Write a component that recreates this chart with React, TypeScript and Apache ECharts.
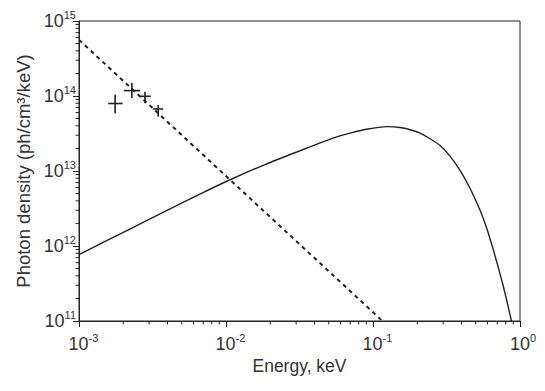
import React, { useEffect, useRef } from "react";
import * as echarts from "echarts";

// Solid curve (model spectrum): energy (keV), photon density
const curveEnergy = [
  0.001, 0.00222, 0.00385, 0.00665, 0.01094, 0.01841, 0.0318, 0.0535, 0.0698, 0.0906, 0.124, 0.1527,
  0.187, 0.209, 0.2443, 0.286, 0.334, 0.391, 0.457, 0.535, 0.5964, 0.655, 0.7083, 0.766, 0.816, 0.868, 0.885,
];
const curveDensity = [
  7.7e11, 1.68e12, 2.9e12, 4.93e12, 7.82e12, 1.22e13, 1.86e13, 2.75e13, 3.2e13, 3.61e13, 3.9e13, 3.8e13,
  3.47e13, 3.19e13, 2.69e13, 2.19e13, 1.58e13, 1.02e13, 5.89e12, 2.99e12, 1.69e12, 9.2e11, 5.37e11, 3.02e11, 1.82e11, 1.07e11, 0.91e11,
];

// Dashed power law
const powerEnergy = [0.001, 0.116];
const powerDensity = [5.6e14, 1.0e11];

// Measured points with error bars
const ptEnergy = [0.00176, 0.00229, 0.00281, 0.00346];
const ptEnergyLo = [0.00158, 0.00202, 0.0026, 0.0032];
const ptEnergyHi = [0.00198, 0.0026, 0.00308, 0.00374];
const ptDensity = [7.94e13, 1.18e14, 9.9e13, 6.71e13];
const ptDensityLo = [5.85e13, 9.4e13, 8.0e13, 5.3e13];
const ptDensityHi = [1.05e14, 1.5e14, 1.14e14, 7.59e13];

// Axis decoration
const minorMultipliers = [2, 3, 4, 5, 6, 7, 8, 9];
const xDecades = [0.001, 0.01, 0.1];
const yDecades = [1e11, 1e12, 1e13, 1e14];

const LINE = "#222";
const TEXT = "#333";
const FONT = "'Liberation Sans', Arial, Helvetica, sans-serif";

export default function App() {
  const ref = useRef<HTMLDivElement>(null);
  useEffect(() => {
    if (!ref.current) return;
    const chart = echarts.init(ref.current, undefined, { renderer: "svg" });

    const xMinor: number[][] = [];
    xDecades.forEach((d) => minorMultipliers.forEach((m) => xMinor.push([m * d, 1e11])));
    const yMinor: number[][] = [];
    yDecades.forEach((d) => minorMultipliers.forEach((m) => yMinor.push([0.001, m * d])));

    const exp = (v: number) => Math.round(Math.log10(v));
    const richBase = {
      b: { fontSize: 18, fontFamily: FONT, color: TEXT },
      s: { fontSize: 11, fontFamily: FONT, color: TEXT, padding: [0, 0, 12, 0] },
      pn: { width: 9, fontSize: 11 },
      pp: { width: 6, fontSize: 11 },
    };

    chart.setOption({
      animation: false,
      backgroundColor: "#fff",
      grid: { left: 79, right: 25, top: 21, bottom: 70, show: true, borderColor: LINE, borderWidth: 1 },
      xAxis: {
        type: "log",
        logBase: 10,
        min: 0.001,
        max: 1,
        name: "Energy, keV",
        nameLocation: "middle",
        nameGap: 36,
        nameTextStyle: { fontSize: 17.5, fontFamily: FONT, color: TEXT },
        axisLine: { show: true, lineStyle: { color: LINE, width: 1 } },
        axisTick: { show: true, inside: false, length: 6, lineStyle: { color: LINE } },
        splitLine: { show: false },
        axisLabel: {
          margin: 11,
          formatter: (v: number) => {
            const e = exp(v);
            return `{${e < 0 ? "pn" : "pp"}| }{b|10}{s|${e}}`;
          },
          rich: richBase,
        },
      },
      yAxis: {
        type: "log",
        logBase: 10,
        min: 1e11,
        max: 1e15,
        name: "Photon density (ph/cm³/keV)",
        nameLocation: "middle",
        nameGap: 46,
        nameTextStyle: { fontSize: 18.5, fontFamily: FONT, color: TEXT },
        axisLine: { show: true, lineStyle: { color: LINE, width: 1 } },
        axisTick: { show: true, inside: false, length: 6, lineStyle: { color: LINE } },
        splitLine: { show: false },
        axisLabel: {
          margin: 3,
          formatter: (v: number) => `{b|10}{s|${exp(v)}}`,
          rich: richBase,
        },
      },
      series: [
        {
          type: "line",
          data: curveEnergy.map((e, i) => [e, curveDensity[i]]),
          symbol: "none",
          smooth: 0.2,
          lineStyle: { color: LINE, width: 1.4 },
          z: 3,
        },
        {
          type: "line",
          data: powerEnergy.map((e, i) => [e, powerDensity[i]]),
          symbol: "none",
          lineStyle: { color: LINE, width: 2, type: [4, 4] },
          z: 3,
        },
        {
          type: "custom",
          data: ptEnergy.map((e, i) => [e, ptDensity[i], ptEnergyLo[i], ptEnergyHi[i], ptDensityLo[i], ptDensityHi[i]]),
          renderItem: (params: any, api: any) => {
            const c = api.coord([api.value(0), api.value(1)]);
            const xl = api.coord([api.value(2), api.value(1)]);
            const xh = api.coord([api.value(3), api.value(1)]);
            const yl = api.coord([api.value(0), api.value(4)]);
            const yh = api.coord([api.value(0), api.value(5)]);
            const st = { stroke: LINE, lineWidth: 1.6 };
            return {
              type: "group",
              children: [
                { type: "line", shape: { x1: xl[0], y1: c[1], x2: xh[0], y2: c[1] }, style: st },
                { type: "line", shape: { x1: c[0], y1: yl[1], x2: c[0], y2: yh[1] }, style: st },
              ],
            };
          },
          z: 4,
        },
        {
          type: "custom",
          data: xMinor,
          clip: false,
          renderItem: (params: any, api: any) => {
            const p = api.coord([api.value(0), api.value(1)]);
            return { type: "line", shape: { x1: p[0], y1: p[1], x2: p[0], y2: p[1] + 3.5 }, style: { stroke: LINE, lineWidth: 1 } };
          },
        },
        {
          type: "custom",
          data: yMinor,
          clip: false,
          renderItem: (params: any, api: any) => {
            const p = api.coord([api.value(0), api.value(1)]);
            return { type: "line", shape: { x1: p[0] - 3.5, y1: p[1], x2: p[0], y2: p[1] }, style: { stroke: LINE, lineWidth: 1 } };
          },
        },
      ],
    });
    return () => chart.dispose();
  }, []);
  return <div ref={ref} style={{ position: "fixed", left: 0, top: 0, width: 545, height: 391 }} />;
}
